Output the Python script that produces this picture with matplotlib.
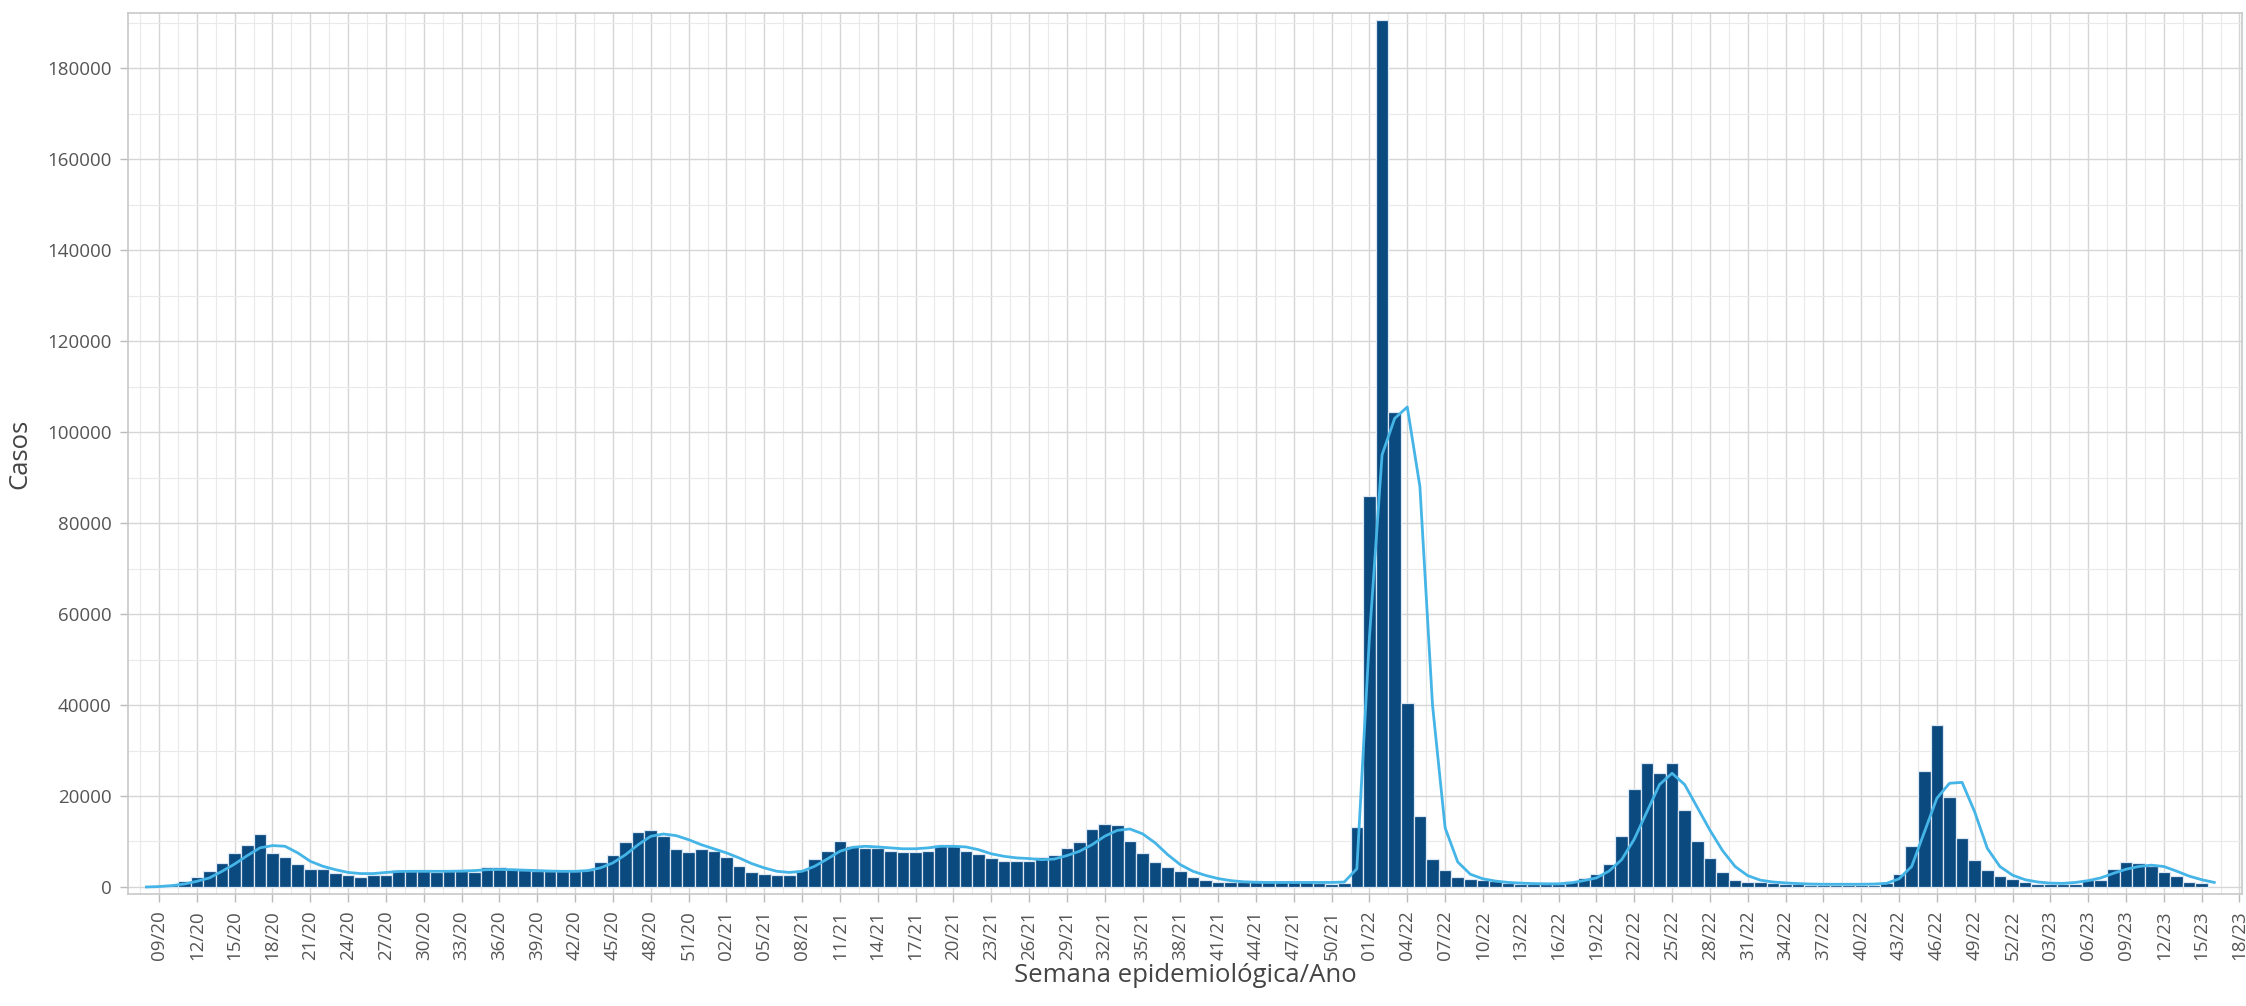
import numpy as np
import matplotlib
matplotlib.use('Agg')
import matplotlib.pyplot as plt
from matplotlib.ticker import MultipleLocator, StrMethodFormatter

plt.rcParams['font.family'] = ['Open Sans', 'DejaVu Sans']

# casos por semana epidemiológica, primeira barra = 09/20
casos = [
    150, 400, 1400, 2100, 3500, 5300, 7400, 9200, 11700, 7500,
    6600, 5050, 4000, 3900, 3000, 2650, 2100, 2550, 2600, 3800,
    3450, 3450, 3400, 3450, 3450, 3400, 4300, 4500, 3950, 3650,
    3600, 3450, 3450, 3450, 3800, 5500, 7100, 9800, 12100, 12600,
    11100, 8350, 7600, 8350, 8000, 6500, 4550, 3400, 2950, 2550,
    2700, 3800, 6150, 8000, 10000, 9100, 8500, 8500, 8000, 7800,
    7800, 8000, 9300, 8950, 7900, 7300, 6450, 5700, 5650, 5700,
    6500, 7100, 8650, 9900, 12750, 13900, 13550, 10000, 7500, 5500,
    4400, 3450, 2200, 1550, 1200, 1050, 1000, 1000, 1000, 1000,
    1000, 1000, 950, 700, 850, 13200, 86000, 190500, 104400, 40400,
    15700, 6200, 3700, 2300, 1750, 1550, 1250, 900, 750, 700,
    700, 750, 1300, 2000, 2900, 5000, 11200, 21500, 27300, 25000,
    27300, 17000, 10100, 6450, 3300, 1500, 1150, 1100, 880, 730,
    600, 500, 400, 400, 400, 400, 450, 880, 2900, 9000,
    25600, 35500, 19800, 10800, 5900, 3700, 2400, 1650, 1000, 750,
    600, 550, 600, 1500, 1550, 3900, 5450, 5250, 4700, 3400,
    2400, 1050, 850,
]

# curva (linha azul clara), começa em 08/20
curva = [
    0, 100, 300, 650, 1250, 2000, 3450, 5050, 6900, 8600,
    9100, 8950, 7500, 5650, 4550, 3800, 3200, 2950, 2950, 3200,
    3400, 3450, 3450, 3450, 3450, 3500, 3600, 3800, 3850, 3800,
    3700, 3600, 3500, 3450, 3450, 3600, 4200, 5300, 7100, 9300,
    11150, 11650, 11300, 10400, 9300, 8400, 7500, 6400, 5150, 4200,
    3450, 3200, 3450, 4550, 6150, 7850, 8700, 8950, 8800, 8600,
    8400, 8400, 8600, 8950, 8950, 8800, 8200, 7300, 6750, 6400,
    6250, 6000, 6150, 6900, 7850, 9300, 11150, 12450, 12750, 11700,
    9700, 7100, 4900, 3450, 2550, 1850, 1400, 1150, 1050, 1000,
    1000, 1000, 1000, 1000, 1000, 1100, 4000, 55000, 95000, 103000,
    105500, 88000, 40000, 13000, 5500, 2800, 1800, 1300, 1000, 850,
    750, 700, 700, 900, 1400, 2000, 3500, 6000, 10500, 16500,
    22500, 25000, 22500, 17500, 12500, 8000, 4500, 2500, 1500, 1100,
    900, 750, 650, 600, 600, 600, 600, 650, 800, 1800,
    4500, 12000, 19500, 22800, 23000, 16500, 8500, 4500, 2600, 1600,
    1100, 850, 800, 1000, 1400, 2000, 3000, 3900, 4500, 4800,
    4500, 3500, 2400, 1600, 1000,
]

rotulos = [
    '09/20', '12/20', '15/20', '18/20', '21/20', '24/20', '27/20', '30/20',
    '33/20', '36/20', '39/20', '42/20', '45/20', '48/20', '51/20',
    '02/21', '05/21', '08/21', '11/21', '14/21', '17/21', '20/21', '23/21',
    '26/21', '29/21', '32/21', '35/21', '38/21', '41/21', '44/21', '47/21',
    '50/21',
    '01/22', '04/22', '07/22', '10/22', '13/22', '16/22', '19/22', '22/22',
    '25/22', '28/22', '31/22', '34/22', '37/22', '40/22', '43/22', '46/22',
    '49/22', '52/22',
    '03/23', '06/23', '09/23', '12/23', '15/23', '18/23',
]

x_barras = np.arange(len(casos))
x_curva = np.arange(len(curva)) - 1
x_rotulos = np.arange(len(rotulos)) * 3

W, H = 2246, 1006
fig = plt.figure(figsize=(W / 100, H / 100), dpi=100)
ax = fig.add_axes([128 / W, 1 - 894 / H, (2242 - 128) / W, (894 - 13) / H])

ax.bar(x_barras, casos, width=1.0, color='#0a4a7f', edgecolor='#dbe7f2',
       linewidth=0.9, zorder=2)
ax.plot(x_curva, curva, color='#45b4e6', lw=2.0, zorder=3)

ax.set_xlim(-2.46, 165.2)
ax.set_ylim(-1540, 192100)

ax.set_xticks(x_rotulos)
ax.set_xticklabels(rotulos, rotation=90)
ax.xaxis.set_minor_locator(MultipleLocator(1.5))
ax.yaxis.set_major_locator(MultipleLocator(20000))
ax.yaxis.set_minor_locator(MultipleLocator(10000))
ax.yaxis.set_major_formatter(StrMethodFormatter('{x:.0f}'))

ax.set_axisbelow(True)
ax.grid(which='major', color='#d6d6d6', lw=1.0)
ax.grid(which='minor', color='#e9e9e9', lw=0.8)

ax.tick_params(which='minor', length=0)
ax.tick_params(which='major', length=6, width=1, color='#bbbbbb',
               labelcolor='#555555', labelsize=13.5, pad=6)
for s in ax.spines.values():
    s.set_color('#c8c8c8')
    s.set_linewidth(1.2)

ax.set_xlabel('Semana epidemiológica/Ano', fontsize=18.5, color='#444444')
ax.set_ylabel('Casos', fontsize=18.5, color='#444444')
ax.xaxis.set_label_coords(0.5, -0.078)
ax.yaxis.set_label_coords(-0.0454, 0.5)

fig.savefig('out.png', dpi=100)
